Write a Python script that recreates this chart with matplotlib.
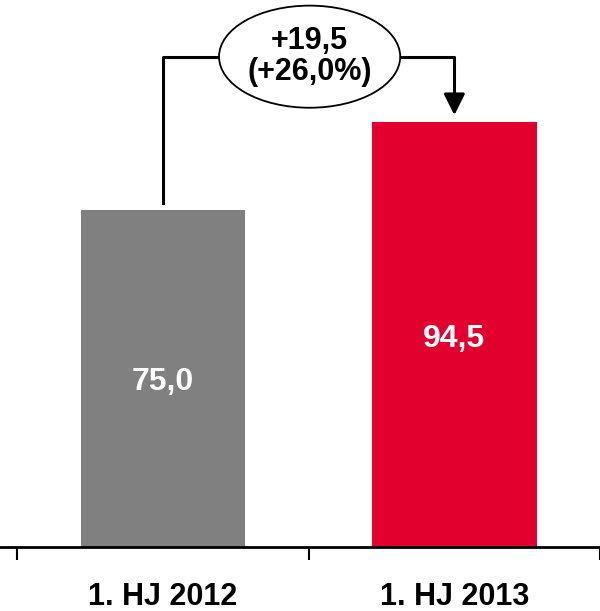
import matplotlib.pyplot as plt
from matplotlib.patches import Ellipse

# Data
categories = ['1. HJ 2012', '1. HJ 2013']
values = [75.0, 94.5]
value_labels = ['75,0', '94,5']
delta_label = '+19,5\n(+26,0%)'
colors = ['#808080', '#E2002F']

plt.rcParams['font.family'] = ['Liberation Sans', 'DejaVu Sans']

fig = plt.figure(figsize=(6.0, 6.11), dpi=100)
ax = fig.add_axes([0, (611 - 547) / 611, 1, 547 / 611])

x = range(len(categories))
ax.bar(x, values, width=0.565, color=colors, zorder=2)

for i, (v, lbl) in enumerate(zip(values, value_labels)):
    ax.text(i, v * 0.49, lbl, ha='center', va='center', color='white',
            fontsize=23, fontweight='bold')

ax.set_xlim(-0.56, 1.443)
ax.set_ylim(0, 121.6)

# axis styling
for s in ['top', 'right', 'left']:
    ax.spines[s].set_visible(False)
ax.spines['bottom'].set_linewidth(2)
ax.set_yticks([])
ax.set_xticks(list(x))
ax.set_xticklabels(categories, fontsize=22, fontweight='bold')
ax.tick_params(axis='x', which='major', length=0, pad=25)
ax.set_xticks([-0.5, 0.5, 1.5], minor=True)
ax.tick_params(axis='x', which='minor', length=9, width=1.5, direction='out')

# delta bubble with connector
y_conn = 109.0
ell_x = 0.503
ax.plot([0, 0, ell_x], [values[0] + 1.5, y_conn, y_conn], color='black', lw=2.2,
        zorder=1, clip_on=False)
ax.plot([ell_x, 1, 1], [y_conn, y_conn, values[1] + 5.0], color='black', lw=2.2,
        zorder=1, clip_on=False)
ax.annotate('', xy=(1, values[1] + 1.5), xytext=(1, values[1] + 6),
            arrowprops=dict(arrowstyle='-|>', color='black', lw=2.2,
                            mutation_scale=32, shrinkA=0, shrinkB=0))
ax.add_patch(Ellipse((ell_x, y_conn), 0.622, 22.7, facecolor='white',
                     edgecolor='black', lw=1.3, zorder=3))
ax.text(ell_x, y_conn, delta_label, ha='center', va='center', fontsize=22,
        fontweight='bold', linespacing=1.05, zorder=4)

fig.savefig('out.png', dpi=100)
